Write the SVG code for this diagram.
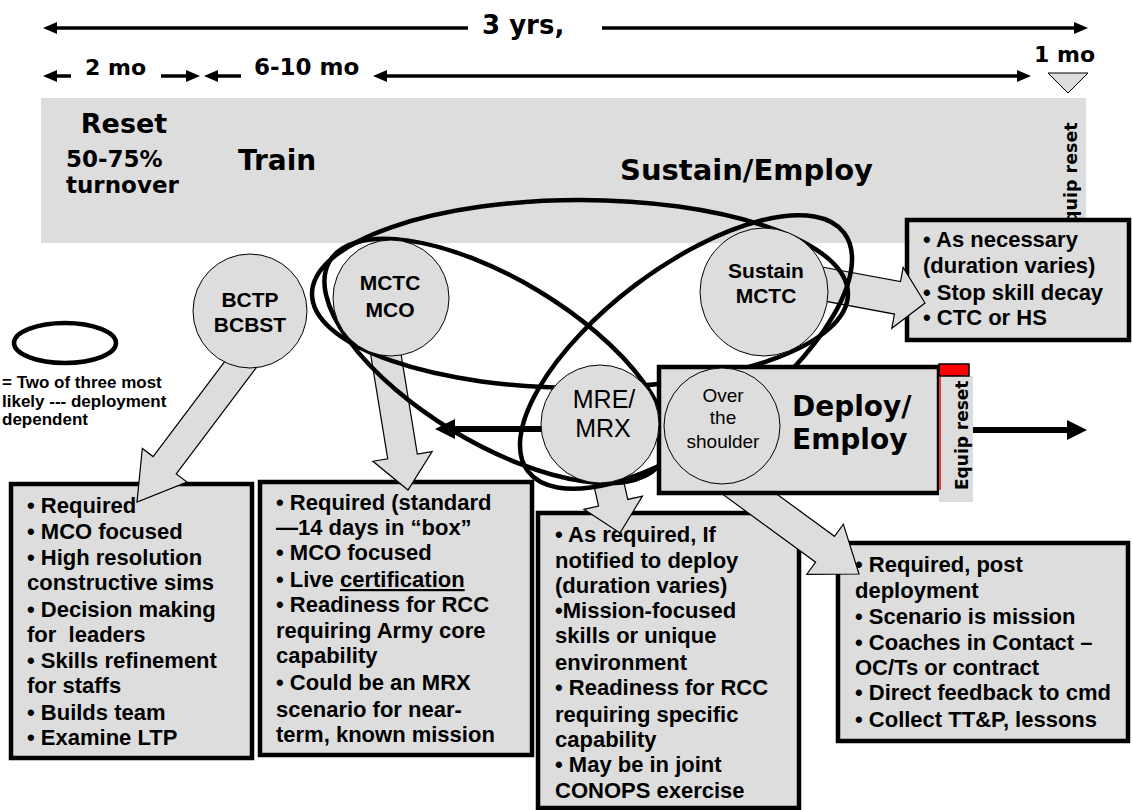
<svg xmlns="http://www.w3.org/2000/svg" width="1133" height="810" viewBox="0 0 1133 810">
<defs>
<style>
.band{fill:#DDDDDD}
.box{fill:#DDDDDD;stroke:#000;stroke-width:4.5}
.circ{fill:#DDDDDD;stroke:#000;stroke-width:1}
.barrow{fill:#DDDDDD;stroke:#000;stroke-width:1.2}
.ell{fill:none;stroke:#000;stroke-width:4.5}
.tl{stroke:#000;stroke-width:3.5;fill:none}
.thick{stroke:#000;stroke-width:6;fill:none}
.hd{font-family:"DejaVu Sans",Verdana,sans-serif;font-weight:bold;fill:#000}
.bx{font-family:"Liberation Sans",Arial,sans-serif;font-weight:bold;font-size:22px;fill:#000}
.cl{font-family:"Liberation Sans",Arial,sans-serif;font-size:21px;font-weight:bold;text-anchor:middle;fill:#000}
.cr{font-family:"Liberation Sans",Arial,sans-serif;text-anchor:middle;fill:#000}
</style>
<marker id="ah" viewBox="0 0 14 12" refX="0" refY="6" markerWidth="14" markerHeight="12" markerUnits="userSpaceOnUse" orient="auto-start-reverse"><path d="M0,0 L14,6 L0,12 z" fill="#000"/></marker>
<marker id="ahb" viewBox="0 0 20 20" refX="0" refY="10" markerWidth="20" markerHeight="20" markerUnits="userSpaceOnUse" orient="auto"><path d="M0,0 L20,10 L0,20 z" fill="#000"/></marker>
</defs>
<rect width="1133" height="810" fill="#fff"/>

<g id="band">
<rect class="band" x="41" y="98" width="1045" height="145"/>
<text class="hd" x="124" y="133" font-size="27" text-anchor="middle">Reset</text>
<text class="hd" x="66" y="167" font-size="23">50-75%</text>
<text class="hd" x="66" y="193" font-size="23">turnover</text>
<text class="hd" x="238" y="170" font-size="28">Train</text>
<text class="hd" x="620" y="180" font-size="29">Sustain/Employ</text>
<text class="hd" font-size="17.5" transform="translate(1077,235) rotate(-90)">Equip reset</text>
</g>

<g id="timeline">
<line class="tl" x1="57" y1="28" x2="468" y2="28" marker-start="url(#ah)"/>
<text class="hd" x="482" y="34" font-size="26">3 yrs,</text>
<line class="tl" x1="602" y1="28" x2="1074" y2="28" marker-end="url(#ah)"/>
<line class="tl" x1="57" y1="76" x2="71" y2="76" marker-start="url(#ah)"/>
<text class="hd" x="85" y="75" font-size="22">2 mo</text>
<line class="tl" x1="161" y1="76" x2="186" y2="76" marker-end="url(#ah)"/>
<line class="tl" x1="218" y1="76" x2="241" y2="76" marker-start="url(#ah)"/>
<text class="hd" x="254" y="75" font-size="23">6-10 mo</text>
<line class="tl" x1="387" y1="76" x2="1017" y2="76" marker-start="url(#ah)" marker-end="url(#ah)"/>
<text class="hd" x="1034" y="62" font-size="22">1 mo</text>
<polygon points="1048,73 1088,73 1068,93" fill="#DDDDDD" stroke="#000" stroke-width="1"/>
</g>

<g id="legend">
<ellipse class="ell" cx="65" cy="343" rx="51" ry="20"/>
<text class="bx" style="font-size:17px"><tspan x="2" y="388">= Two of three most</tspan><tspan x="2" y="407">likely --- deployment</tspan><tspan x="2" y="425">dependent</tspan></text>
</g>

<g id="box-bctp">
<rect class="box" x="11" y="484" width="241" height="274"/>
<text class="bx" xml:space="preserve"><tspan x="27" y="513">• Required</tspan><tspan x="27" y="539">• MCO focused</tspan><tspan x="27" y="565">• High resolution</tspan><tspan x="27" y="590">constructive sims</tspan><tspan x="27" y="617">• Decision making</tspan><tspan x="27" y="642">for  leaders</tspan><tspan x="27" y="668">• Skills refinement</tspan><tspan x="27" y="693">for staffs</tspan><tspan x="27" y="720">• Builds team</tspan><tspan x="27" y="745">• Examine LTP</tspan></text>
</g>

<g id="box-mctc">
<rect class="box" x="260" y="482" width="272" height="273"/>
<text class="bx"><tspan x="276" y="510">• Required (standard</tspan><tspan x="276" y="535">—14 days in “box”</tspan><tspan x="276" y="560">• MCO focused</tspan><tspan x="276" y="587">• Live <tspan text-decoration="underline">certification</tspan></tspan><tspan x="276" y="612">• Readiness for RCC</tspan><tspan x="276" y="638">requiring Army core</tspan><tspan x="276" y="663">capability</tspan><tspan x="276" y="690">• Could be an MRX</tspan><tspan x="276" y="717">scenario for near-</tspan><tspan x="276" y="742">term, known mission</tspan></text>
</g>

<g id="box-mre">
<rect class="box" x="538" y="513" width="261" height="295"/>
<text class="bx"><tspan x="555" y="542">• As required, If</tspan><tspan x="555" y="568">notified to deploy</tspan><tspan x="555" y="593">(duration varies)</tspan><tspan x="555" y="618">•Mission-focused</tspan><tspan x="555" y="643">skills or unique</tspan><tspan x="555" y="670">environment</tspan><tspan x="555" y="695">• Readiness for RCC</tspan><tspan x="555" y="722">requiring specific</tspan><tspan x="555" y="747">capability</tspan><tspan x="555" y="772">• May be in joint</tspan><tspan x="555" y="798">CONOPS exercise</tspan></text>
</g>

<g id="box-post">
<rect class="box" x="838" y="543" width="290" height="198"/>
<text class="bx"><tspan x="855" y="572">• Required, post</tspan><tspan x="855" y="598">deployment</tspan><tspan x="855" y="624">• Scenario is mission</tspan><tspan x="855" y="650">• Coaches in Contact –</tspan><tspan x="855" y="675">OC/Ts or contract</tspan><tspan x="855" y="700">• Direct feedback to cmd</tspan><tspan x="855" y="727">• Collect TT&amp;P, lessons</tspan></text>
</g>

<g id="box-sustain">
<rect class="box" x="907" y="220" width="222" height="120"/>
<text class="bx"><tspan x="923" y="247">• As necessary</tspan><tspan x="923" y="273">(duration varies)</tspan><tspan x="923" y="300">• Stop skill decay</tspan><tspan x="923" y="325">• CTC or HS</tspan></text>
</g>

<g id="connectors">
<polygon class="barrow" points="264.58,356.72 176.26,473.98 187.05,482.11 137,502 142.31,448.41 153.10,456.54 241.42,339.28"/>
<polygon class="barrow" points="397.04,329.68 417.33,454.02 432.14,451.61 408,490 372.92,461.27 387.73,458.86 367.44,334.52"/>
<polygon class="barrow" points="800.22,262.98 900.50,281.66 903.15,267.41 925,303 891.81,328.35 894.46,314.10 794.18,295.42"/>
<polygon class="barrow" points="614.82,441.9 627.81,499.46 642.45,496.16 620,533 583.91,509.36 598.55,506.06 585.56,448.5"/>
<polygon class="barrow" points="706.92,443.14 834.52,536.31 843.36,524.19 859,574 806.80,574.27 815.64,562.15 688.04,468.98"/>
</g>

<g id="ellipses">
<ellipse class="ell" cx="580" cy="294" rx="268" ry="94"/>
<ellipse class="ell" cx="496" cy="361" rx="194" ry="82" transform="rotate(31 496 361)"/>
<ellipse class="ell" cx="686" cy="352" rx="198" ry="84" transform="rotate(-37 686 352)"/>
</g>

<g id="deploy">
<rect class="box" x="659" y="367" width="280" height="126" stroke-width="4"/>
<circle class="circ" cx="722" cy="426" r="58"/>
<text class="cr" font-size="19"><tspan x="723" y="402">Over</tspan><tspan x="723" y="424">the</tspan><tspan x="723" y="448">shoulder</tspan></text>
<text class="hd" font-size="28" x="792" y="416">Deploy/</text>
<text class="hd" font-size="28" x="792" y="449">Employ</text>
<rect x="939" y="376" width="34" height="126" fill="#DDDDDD"/>
<line x1="940" y1="377" x2="940" y2="490" stroke="#E00" stroke-width="1.5"/>
<rect x="939" y="364" width="30" height="12" fill="#FF0000" stroke="#000" stroke-width="1.5"/>
<text class="hd" font-size="17" transform="translate(968,490) rotate(-90)">Equip reset</text>
</g>

<g id="node-bctp">
<circle class="circ" cx="250" cy="311" r="57"/>
<text class="cl"><tspan x="250" y="307">BCTP</tspan><tspan x="250" y="332">BCBST</tspan></text>
</g>
<g id="node-mctc">
<circle class="circ" cx="391" cy="298" r="58"/>
<text class="cl"><tspan x="390" y="290">MCTC</tspan><tspan x="390" y="317">MCO</tspan></text>
</g>
<g id="node-sustain">
<circle class="circ" cx="764" cy="292" r="64"/>
<text class="cl"><tspan x="766" y="278">Sustain</tspan><tspan x="766" y="303">MCTC</tspan></text>
</g>
<g id="node-mre">
<circle class="circ" cx="600" cy="424" r="59"/>
<text class="cr" font-size="25"><tspan x="604" y="408">MRE/</tspan><tspan x="603" y="437">MRX</tspan></text>
</g>

<g id="connectors-thick">
<line class="thick" x1="541" y1="429" x2="455" y2="429" marker-end="url(#ahb)"/>
<line class="thick" x1="973" y1="430" x2="1067" y2="430" marker-end="url(#ahb)"/>
</g>
</svg>
